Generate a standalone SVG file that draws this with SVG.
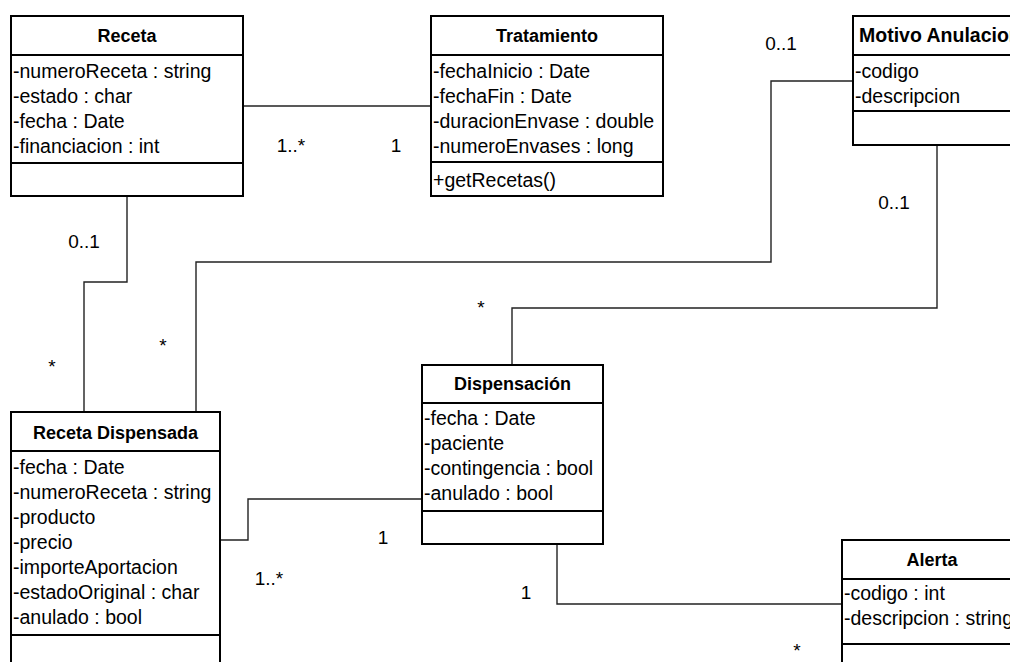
<svg xmlns="http://www.w3.org/2000/svg" width="1010" height="662" viewBox="0 0 1010 662">
  <style>
    .box { fill: #ffffff; stroke: #000000; stroke-width: 2; }
    .div { stroke: #000000; stroke-width: 2; }
    .conn { fill: none; stroke: #222222; stroke-width: 1.4; }
    text { font-family: "Liberation Sans", Arial, sans-serif; font-size: 19.5px; fill: #000000; }
    .title { font-weight: bold; font-size: 18px; text-anchor: middle; }
    .mult { text-anchor: middle; font-size: 19px; }
  </style>
  <rect width="1010" height="662" fill="#ffffff"/>

  <!-- associations -->
  <g id="connectors">
    <polyline class="conn" points="243,106 431,106"/>
    <polyline class="conn" points="127,196 127,282 84,282 84,412"/>
    <polyline class="conn" points="853,81 771,81 771,262 196,262 196,412"/>
    <polyline class="conn" points="937,145 937,308 512,308 512,365"/>
    <polyline class="conn" points="220,540 248,540 248,499 422,499"/>
    <polyline class="conn" points="557,544 557,604 842,604"/>
  </g>

  <!-- multiplicities -->
  <g id="multiplicities">
    <text class="mult" x="291" y="152">1..*</text>
    <text class="mult" x="396" y="152">1</text>
    <text class="mult" x="781" y="50">0..1</text>
    <text class="mult" x="894" y="209">0..1</text>
    <text class="mult" x="84" y="248">0..1</text>
    <text class="mult" x="52" y="373">*</text>
    <text class="mult" x="163" y="352">*</text>
    <text class="mult" x="481" y="314">*</text>
    <text class="mult" x="383" y="544">1</text>
    <text class="mult" x="269" y="585">1..*</text>
    <text class="mult" x="526" y="599">1</text>
    <text class="mult" x="797" y="657">*</text>
  </g>

  <g id="receta">
    <rect class="box" x="11" y="16" width="232" height="180"/>
    <line class="div" x1="11" y1="55" x2="243" y2="55"/>
    <line class="div" x1="11" y1="163" x2="243" y2="163"/>
    <text class="title" x="127" y="42">Receta</text>
    <text x="13" y="78">-numeroReceta : string</text>
    <text x="13" y="103">-estado : char</text>
    <text x="13" y="128">-fecha : Date</text>
    <text x="13" y="153">-financiacion : int</text>
  </g>

  <g id="tratamiento">
    <rect class="box" x="431" y="16" width="232" height="180"/>
    <line class="div" x1="431" y1="55" x2="663" y2="55"/>
    <line class="div" x1="431" y1="162" x2="663" y2="162"/>
    <text class="title" x="547" y="42">Tratamiento</text>
    <text x="433" y="78">-fechaInicio : Date</text>
    <text x="433" y="103">-fechaFin : Date</text>
    <text x="433" y="128">-duracionEnvase : double</text>
    <text x="433" y="153">-numeroEnvases : long</text>
    <text x="433" y="187">+getRecetas()</text>
  </g>

  <g id="motivo-anulacion">
    <rect class="box" x="853" y="16" width="180" height="129"/>
    <line class="div" x1="853" y1="55" x2="1033" y2="55"/>
    <line class="div" x1="853" y1="111" x2="1033" y2="111"/>
    <text x="859" y="42" font-weight="bold" font-size="18">Motivo Anulacion</text>
    <text x="855" y="78">-codigo</text>
    <text x="855" y="103">-descripcion</text>
  </g>

  <g id="receta-dispensada">
    <rect class="box" x="11" y="412" width="209" height="270"/>
    <line class="div" x1="11" y1="451" x2="220" y2="451"/>
    <line class="div" x1="11" y1="635" x2="220" y2="635"/>
    <text class="title" x="115.5" y="439">Receta Dispensada</text>
    <text x="13" y="474">-fecha : Date</text>
    <text x="13" y="499">-numeroReceta : string</text>
    <text x="13" y="524">-producto</text>
    <text x="13" y="549">-precio</text>
    <text x="13" y="574">-importeAportacion</text>
    <text x="13" y="599">-estadoOriginal : char</text>
    <text x="13" y="624">-anulado : bool</text>
  </g>

  <g id="dispensacion">
    <rect class="box" x="422" y="365" width="181" height="179"/>
    <line class="div" x1="422" y1="403" x2="603" y2="403"/>
    <line class="div" x1="422" y1="511" x2="603" y2="511"/>
    <text class="title" x="512.5" y="390">Dispensación</text>
    <text x="424" y="425">-fecha : Date</text>
    <text x="424" y="450">-paciente</text>
    <text x="424" y="475">-contingencia : bool</text>
    <text x="424" y="500">-anulado : bool</text>
  </g>

  <g id="alerta">
    <rect class="box" x="842" y="540" width="180" height="140"/>
    <line class="div" x1="842" y1="579" x2="1022" y2="579"/>
    <line class="div" x1="842" y1="644" x2="1022" y2="644"/>
    <text class="title" x="932" y="566">Alerta</text>
    <text x="844" y="600">-codigo : int</text>
    <text x="844" y="625">-descripcion : string</text>
  </g>
</svg>
